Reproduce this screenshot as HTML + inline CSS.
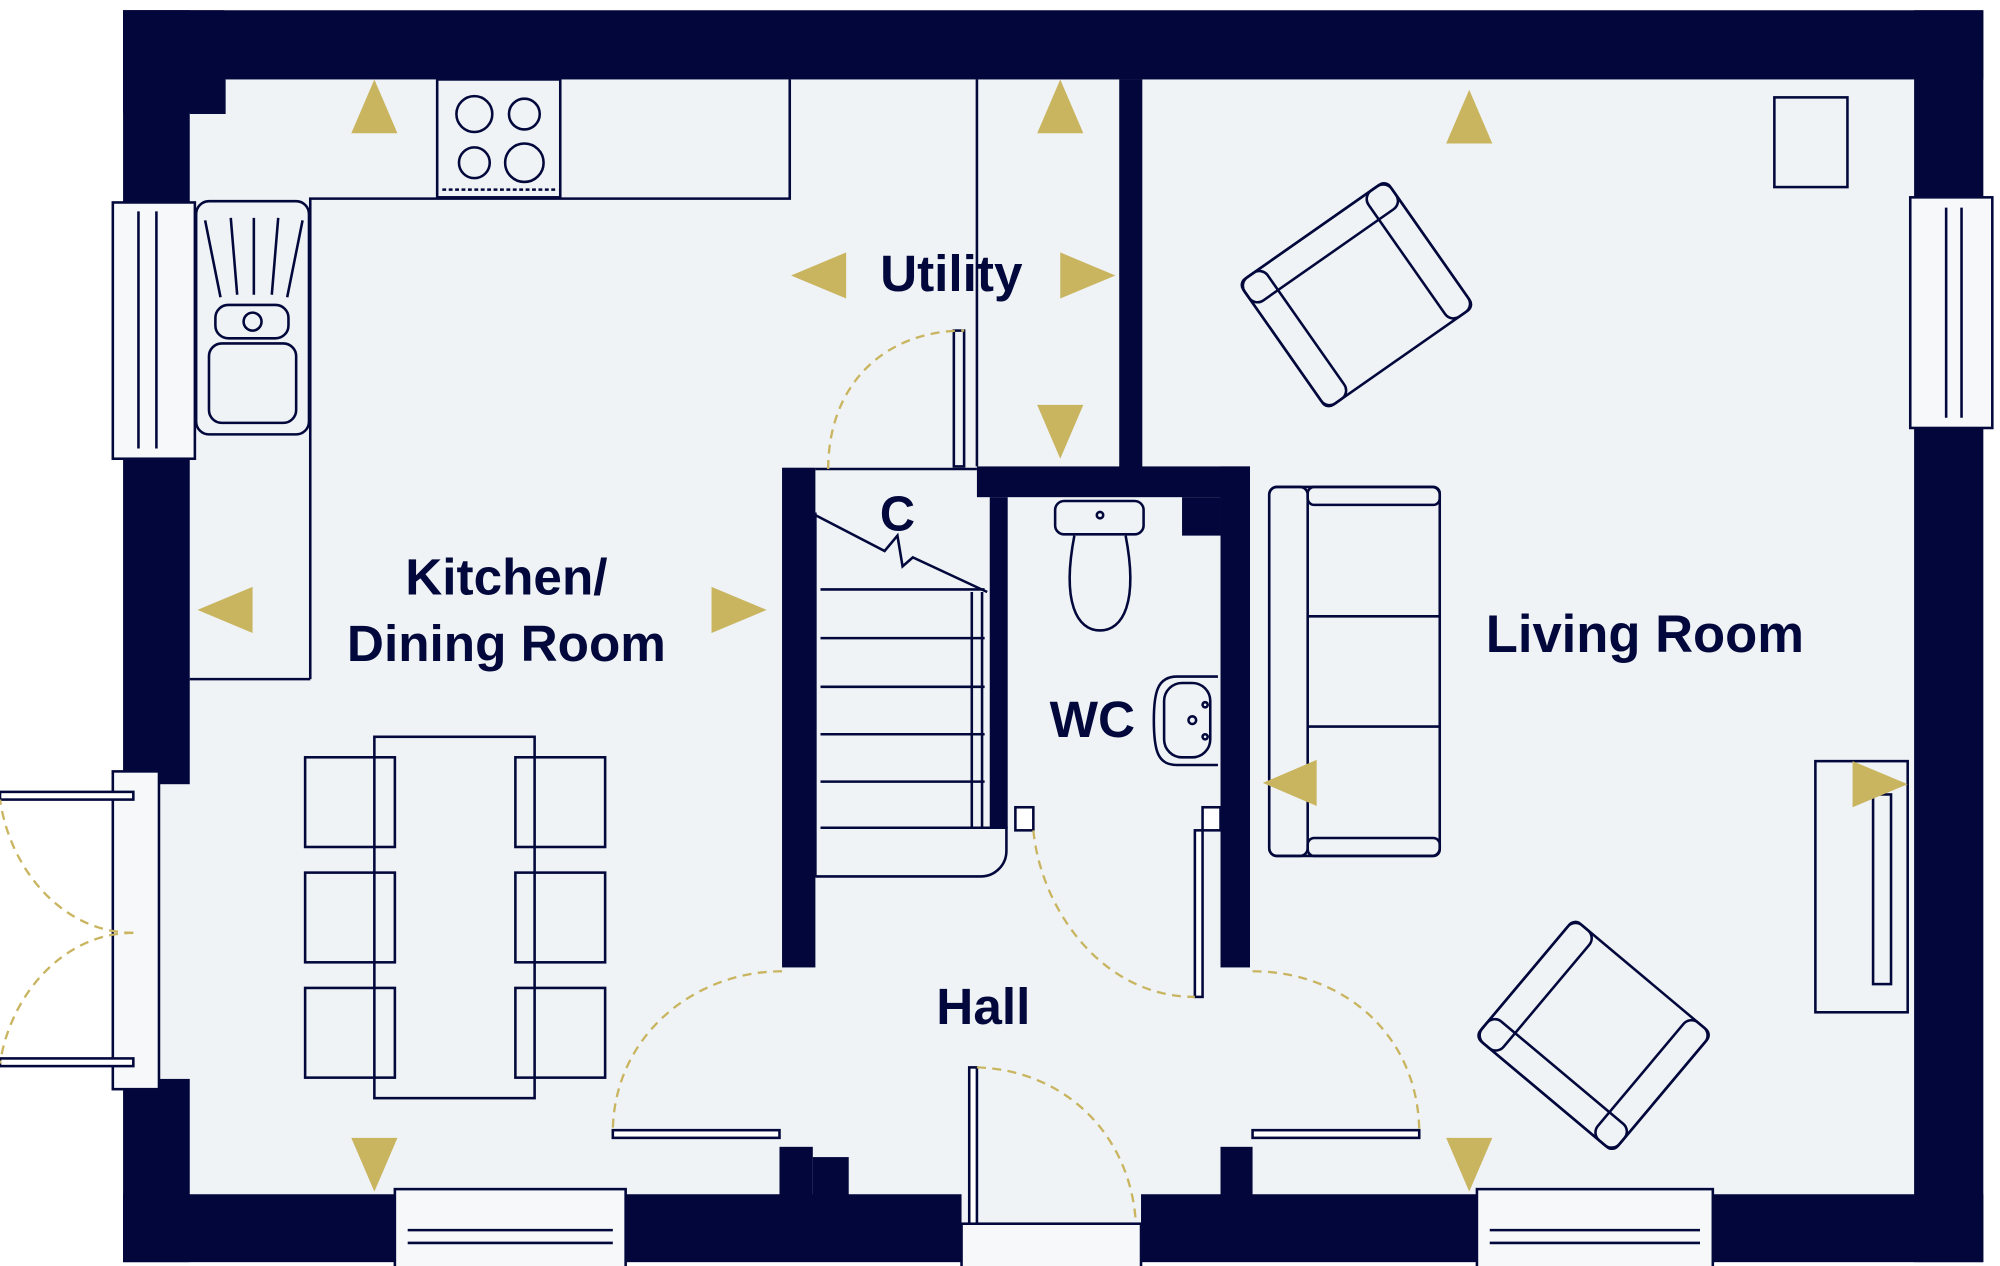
<!DOCTYPE html>
<html><head><meta charset="utf-8"><style>
html,body{margin:0;padding:0;background:#fff}
svg{display:block}
text{font-family:"Liberation Sans",sans-serif;font-weight:bold;fill:#03083c}
</style></head><body>
<svg width="2000" height="1266" viewBox="0 0 1560 988" preserveAspectRatio="none" xmlns="http://www.w3.org/2000/svg">
<rect width="1560" height="988" fill="#fff"/>
<rect x="96" y="8" width="1451" height="977" fill="#eff3f5"/>
<g fill="#02063a">
<rect x="96" y="8" width="1451" height="54"/>
<rect x="96" y="8" width="52" height="152"/>
<rect x="96" y="8" width="79" height="80"/>
<rect x="96" y="352" width="52" height="260"/>
<rect x="96" y="842" width="52" height="143"/>
<rect x="96" y="932" width="212" height="53"/>
<rect x="487" y="932" width="263" height="53"/>
<rect x="608" y="895" width="26" height="40"/>
<rect x="634" y="903" width="28" height="32"/>
<rect x="890" y="932" width="262" height="53"/>
<rect x="952" y="895" width="25" height="40"/>
<rect x="1335" y="932" width="212" height="53"/>
<rect x="1493" y="8" width="54" height="152"/>
<rect x="1493" y="330" width="54" height="655"/>
<rect x="873" y="62" width="18" height="320"/>
<rect x="762" y="364" width="213" height="24"/>
<rect x="922" y="388" width="30" height="30"/>
<rect x="952" y="364" width="23" height="391"/>
<rect x="772" y="388" width="14" height="258"/>
<rect x="610" y="365" width="26" height="390"/>
</g>
<g fill="none" stroke="#03083c" stroke-width="2">
<rect x="88" y="158" width="64" height="200" fill="#f6f8f9"/>
<line x1="108" y1="165" x2="108" y2="350"/><line x1="122" y1="165" x2="122" y2="350"/>
<rect x="1490" y="154" width="64" height="180" fill="#f6f8f9"/>
<line x1="1518" y1="162" x2="1518" y2="326"/><line x1="1530" y1="162" x2="1530" y2="326"/>
<rect x="308" y="928" width="180" height="62" fill="#f6f8f9"/>
<line x1="318" y1="960" x2="478" y2="960"/><line x1="318" y1="970" x2="478" y2="970"/>
<rect x="1152" y="928" width="184" height="62" fill="#f6f8f9"/>
<line x1="1162" y1="960" x2="1326" y2="960"/><line x1="1162" y1="970" x2="1326" y2="970"/>
<rect x="750" y="955" width="140" height="35" fill="#f6f8f9"/>
<rect x="756" y="833" width="6" height="122" fill="#fff"/>
<rect x="88" y="602" width="36" height="248" fill="#f6f8f9"/>
<rect x="0" y="618" width="104" height="6" fill="#fff"/>
<rect x="0" y="826" width="104" height="6" fill="#fff"/>
<polyline points="175,62 175,88 148,88"/>
<polyline points="242,530 242,155 616,155 616,62"/>
<line x1="148" y1="530" x2="242" y2="530"/>
<rect x="341" y="62" width="96" height="92"/>
<circle cx="370" cy="89" r="14"/><circle cx="409" cy="89" r="12"/>
<circle cx="370" cy="127" r="12"/><circle cx="409" cy="127" r="15"/>
<line x1="345" y1="148" x2="433" y2="148" stroke-dasharray="3 2"/>
<rect x="153" y="157" width="88" height="182" rx="10"/>
<polyline points="160,172 172,232"/><polyline points="180,170 185,230"/><polyline points="198,170 198,230"/><polyline points="217,170 212,230"/><polyline points="236,172 224,232"/>
<rect x="168" y="238" width="57" height="26" rx="10"/><circle cx="197" cy="251" r="7"/>
<rect x="163" y="268" width="68" height="62" rx="10"/>
<rect x="292" y="575" width="125" height="282"/>
<rect x="238" y="591" width="70" height="70"/><rect x="238" y="681" width="70" height="70"/><rect x="238" y="771" width="70" height="70"/>
<rect x="402" y="591" width="70" height="70"/><rect x="402" y="681" width="70" height="70"/><rect x="402" y="771" width="70" height="70"/>
<line x1="762" y1="62" x2="762" y2="364"/>
<rect x="744" y="258" width="8" height="106"/>
<line x1="636" y1="366" x2="762" y2="366"/>
<line x1="636" y1="400" x2="636" y2="684"/>
<polyline points="636,402 690,430 700,418 704,442 712,435 770,462"/>
<line x1="640" y1="460" x2="768" y2="460"/>
<line x1="640" y1="498" x2="768" y2="498"/><line x1="640" y1="536" x2="768" y2="536"/>
<line x1="640" y1="573" x2="768" y2="573"/><line x1="640" y1="610" x2="768" y2="610"/>
<line x1="640" y1="646" x2="786" y2="646"/>
<line x1="758" y1="462" x2="758" y2="646"/><line x1="766" y1="462" x2="766" y2="646"/>
<path d="M636,684 H765 a20,20 0 0 0 20,-20 V646"/>
<rect x="823" y="391" width="69" height="26" rx="7"/><circle cx="858" cy="402" r="2.5"/>
<path d="M838,418 C828,470 840,492 858,492 C876,492 888,470 878,418"/>
<path d="M950,528 H918 C903,528 900,540 900,562 C900,586 903,597 918,597 H950"/>
<rect x="908" y="533" width="36" height="58" rx="14"/>
<circle cx="930" cy="562" r="3"/><circle cx="940" cy="550" r="2"/><circle cx="940" cy="575" r="2"/>
<rect x="792" y="630" width="14" height="18" fill="#fff"/>
<rect x="938" y="630" width="14" height="18" fill="#fff"/>
<rect x="932" y="648" width="6" height="130" fill="#fff"/>
<rect x="478" y="882" width="130" height="6" fill="#fff"/>
<rect x="977" y="882" width="130" height="6" fill="#fff"/>
<rect x="1384" y="76" width="57" height="70"/>
<g transform="translate(1058,230) rotate(-35)">
<rect x="-70" y="-60" width="140" height="120" rx="6"/>
<rect x="-70" y="-60" width="140" height="22" rx="8"/>
<rect x="-70" y="-60" width="22" height="120" rx="8"/>
<rect x="48" y="-60" width="22" height="120" rx="8"/>
</g>
<g transform="translate(1243,808) rotate(-140)">
<rect x="-70" y="-60" width="140" height="120" rx="6"/>
<rect x="-70" y="-60" width="140" height="22" rx="8"/>
<rect x="-70" y="-60" width="22" height="120" rx="8"/>
<rect x="48" y="-60" width="22" height="120" rx="8"/>
</g>
<rect x="990" y="380" width="133" height="288" rx="6"/>
<rect x="990" y="380" width="30" height="288" rx="6"/>
<rect x="1020" y="380" width="103" height="14" rx="5"/>
<rect x="1020" y="654" width="103" height="14" rx="5"/>
<line x1="1020" y1="481" x2="1123" y2="481"/><line x1="1020" y1="567" x2="1123" y2="567"/>
<rect x="1416" y="594" width="72" height="196"/>
<rect x="1461" y="620" width="14" height="148"/>
</g>
<g fill="none" stroke="#c9b460" stroke-width="1.8" stroke-dasharray="7 5">
<path d="M646,366 C646,300 690,258 752,258"/>
<path d="M104,728 C50,728 8,680 0,624"/>
<path d="M104,728 C50,728 8,776 0,830"/>
<path d="M610,758 C540,758 478,810 478,884"/>
<path d="M977,758 C1050,758 1107,810 1107,884"/>
<path d="M806,648 C812,710 860,778 932,778"/>
<path d="M762,833 C830,835 882,885 886,955"/>
</g>
<g fill="#c9b460">
<polygon points="292,62 274,104 310,104"/>
<polygon points="827,62 809,104 845,104"/>
<polygon points="1146,70 1128,112 1164,112"/>
<polygon points="827,358 809,316 845,316"/>
<polygon points="292,930 274,888 310,888"/>
<polygon points="1146,930 1128,888 1164,888"/>
<polygon points="617,215 660,197 660,233"/>
<polygon points="154,476 197,458 197,494"/>
<polygon points="985,611 1027,593 1027,629"/>
<polygon points="870,215 827,197 827,233"/>
<polygon points="598,476 555,458 555,494"/>
<polygon points="1488,612 1445,594 1445,630"/>
</g>
<text x="742" y="227" font-size="40" text-anchor="middle">Utility</text>
<text x="395" y="464" font-size="40" text-anchor="middle">Kitchen/</text>
<text x="395" y="516" font-size="40" text-anchor="middle">Dining Room</text>
<text x="1283" y="509" font-size="41" text-anchor="middle">Living Room</text>
<text x="852" y="575" font-size="40" text-anchor="middle">WC</text>
<text x="767" y="799" font-size="40" text-anchor="middle">Hall</text>
<text x="700" y="414" font-size="38" text-anchor="middle">C</text>
</svg>
</body></html>
